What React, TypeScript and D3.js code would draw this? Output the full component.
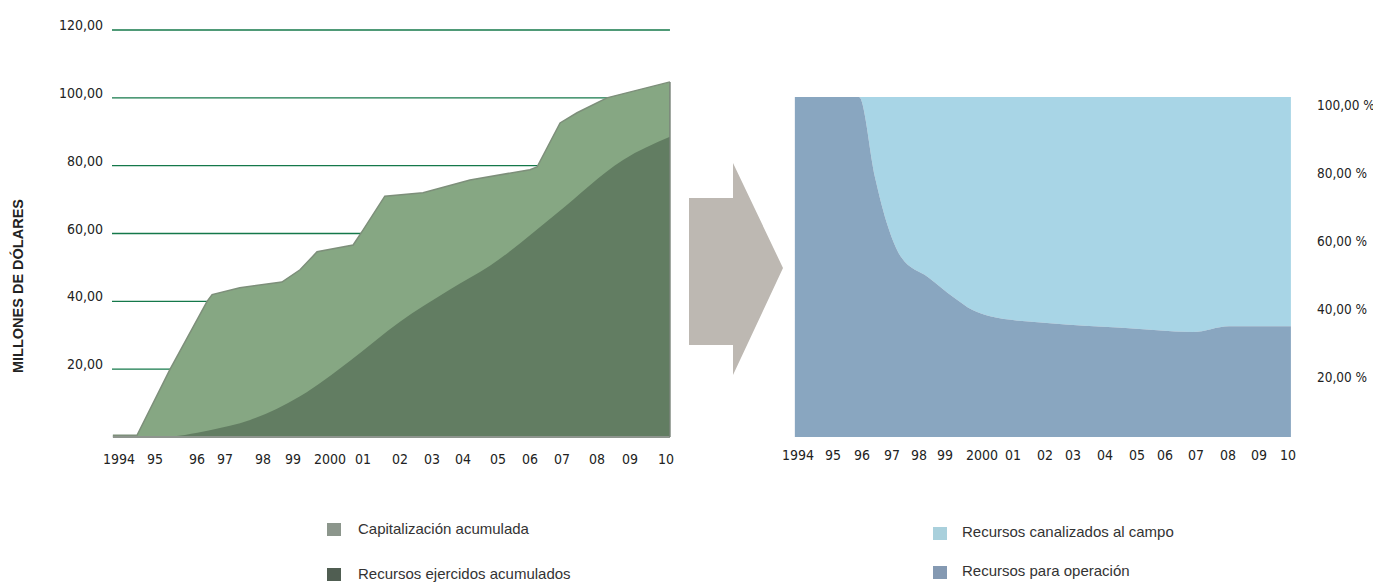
import React from 'react';
import * as d3 from 'd3';

// ---- data ----
const tickLabels = ['1994', '95', '96', '97', '98', '99', '2000', '01', '02', '03', '04', '05', '06', '07', '08', '09', '10'];
const tickYears = d3.range(1994, 2011);
const leftTickValues = [20, 40, 60, 80, 100, 120];
const rightTickValues = [20, 40, 60, 80, 100];

// Capitalización acumulada (millones de dólares)
const capYears = [1993.83, 1994.5, 1995.36, 1996.36, 1996.54, 1997.39, 1998.63, 1999.19, 1999.65, 2000.7, 2001.0, 2001.59, 2002.72, 2004.2, 2006.0, 2006.22, 2006.94, 2007.43, 2008.3, 2010.11];
const capValues = [0.5, 0.5, 20, 40, 42, 44, 45.7, 49.3, 54.6, 56.6, 61, 71, 72, 75.8, 78.8, 79.6, 92.6, 95.6, 100, 104.7];

// Recursos ejercidos acumulados
const ejYears = [1993.83, 1995.12, 1996.46, 1997.66, 1999.19, 2000.61, 2002.0, 2003.58, 2004.77, 2006.84, 2008.79, 2010.11];
const ejValues = [0, 0, 2, 5, 12, 22.5, 34, 43.5, 50.5, 66, 81.7, 88.5];

// Recursos para operación (% del total)
const opYears = [1993.91, 1995.9, 1996.43, 1996.87, 1997.33, 1998.35, 1999.24, 1999.73, 2000.26, 2002.07, 2004.53, 2006.9, 2008.03, 2010.1];
const opValues = [100, 100, 76.5, 61.8, 53, 47, 41, 37.4, 35.5, 33.5, 32.1, 30.9, 32.6, 32.6];

const legendLeft = ['Capitalización acumulada', 'Recursos ejercidos acumulados'];
const legendRight = ['Recursos canalizados al campo', 'Recursos para operación'];

const NARROW = "'Liberation Sans Narrow', 'DejaVu Sans Condensed', sans-serif";
const SANS = "'Liberation Sans', Arial, sans-serif";

export default function App() {
  const xL = d3.scaleLinear().domain(tickYears)
    .range([119, 155, 197, 225, 263, 293, 330, 363, 400, 432, 463, 498, 530, 562, 597, 630, 666]);
  const yL = d3.scaleLinear().domain([0, 120]).range([437, 30]);
  const xR = d3.scaleLinear().domain(tickYears)
    .range([798, 833, 862, 892, 919, 945, 982, 1013, 1045, 1073, 1105, 1137, 1165, 1196, 1228, 1259, 1288]);
  const yR = d3.scaleLinear().domain([0, 100]).range([437, 97]);

  const cap = capYears.map((t, i) => ({ t, v: capValues[i] }));
  const ej = ejYears.map((t, i) => ({ t, v: ejValues[i] }));
  const op = opYears.map((t, i) => ({ t, v: opValues[i] }));

  const capArea = d3.area<any>().x(d => xL(d.t)).y0(yL(0)).y1(d => yL(d.v)).curve(d3.curveLinear)(cap) || '';
  const capLine = d3.line<any>().x(d => xL(d.t)).y(d => yL(d.v)).curve(d3.curveLinear)(cap) || '';
  const ejArea = d3.area<any>().x(d => xL(d.t)).y0(yL(0)).y1(d => yL(d.v)).curve(d3.curveMonotoneX)(ej) || '';

  const opArea = d3.area<any>().x(d => xR(d.t)).y0(yR(0)).y1(d => yR(d.v)).curve(d3.curveMonotoneX)(op) || '';
  const campoArea = d3.area<any>().x(d => xR(d.t)).y0(d => yR(d.v)).y1(yR(100)).curve(d3.curveMonotoneX)(op) || '';

  const x0L = xL(capYears[0]);
  const x1L = xL(capYears[capYears.length - 1]);
  const fmt = (v: number) => d3.format('.2f')(v).replace('.', ',');

  return (
    <svg width={1373} height={584} style={{ position: 'absolute', left: 0, top: 0, background: '#fff' }}>
      {/* y title */}
      <text transform={`translate(23,286) rotate(-90)`} textAnchor="middle" fontFamily={SANS} fontWeight="bold" fontSize={14.5} fill="#222">MILLONES DE DÓLARES</text>

      {/* gridlines */}
      {leftTickValues.map(v => (
        <g key={v}>
          <line x1={112} x2={x1L} y1={yL(v)} y2={yL(v)} stroke="#14784a" strokeWidth={1.3} />
          <text x={103} y={yL(v) - 4} textAnchor="end" dominantBaseline="middle" fontFamily={NARROW} fontSize={14} fill="#222">{fmt(v)}</text>
        </g>
      ))}

      {/* left areas */}
      <path d={capArea} fill="#86a783" />
      <path d={capLine} fill="none" stroke="#7d8f7a" strokeWidth={1.5} />
      <path d={ejArea} fill="#627d62" />
      <line x1={x0L} x2={x1L} y1={yL(0)} y2={yL(0)} stroke="#8e958e" strokeWidth={2} />
      <line x1={x1L} x2={x1L} y1={yL(0)} y2={yL(capValues[capValues.length - 1])} stroke="#7a847a" strokeWidth={1.5} />

      {tickYears.map((t, i) => (
        <text key={t} x={xL(t)} y={460} textAnchor="middle" dominantBaseline="middle" fontFamily={NARROW} fontSize={14} fill="#222">{tickLabels[i]}</text>
      ))}

      {/* arrow */}
      <polygon points="689,198 733,198 733,163 783,268 733,375 733,345 689,345" fill="#bdb8b2" />

      {/* right areas */}
      <path d={campoArea} fill="#a8d5e6" />
      <path d={opArea} fill="#89a6c0" />

      {rightTickValues.map(v => (
        <text key={v} x={1317} y={yR(v) + 9} dominantBaseline="middle" fontFamily={NARROW} fontSize={13.5} fill="#222">{fmt(v) + ' %'}</text>
      ))}

      {tickYears.map((t, i) => (
        <text key={t} x={xR(t)} y={456} textAnchor="middle" dominantBaseline="middle" fontFamily={NARROW} fontSize={14} fill="#222">{tickLabels[i]}</text>
      ))}

      {/* legends */}
      {legendLeft.map((s, i) => (
        <g key={s} transform={`translate(327,${523 + i * 45})`}>
          <rect x={0} y={0} width={14} height={13} fill={i === 0 ? '#8c968c' : '#505e52'} />
          <text x={31} y={7} dominantBaseline="middle" fontFamily={SANS} fontSize={15} fill="#333">{s}</text>
        </g>
      ))}
      {legendRight.map((s, i) => (
        <g key={s} transform={`translate(933,${527 + i * 39})`}>
          <rect x={0} y={0} width={14} height={13} fill={i === 0 ? '#a9d0dc' : '#8499b2'} />
          <text x={29} y={6} dominantBaseline="middle" fontFamily={SANS} fontSize={15} fill="#333">{s}</text>
        </g>
      ))}
    </svg>
  );
}
